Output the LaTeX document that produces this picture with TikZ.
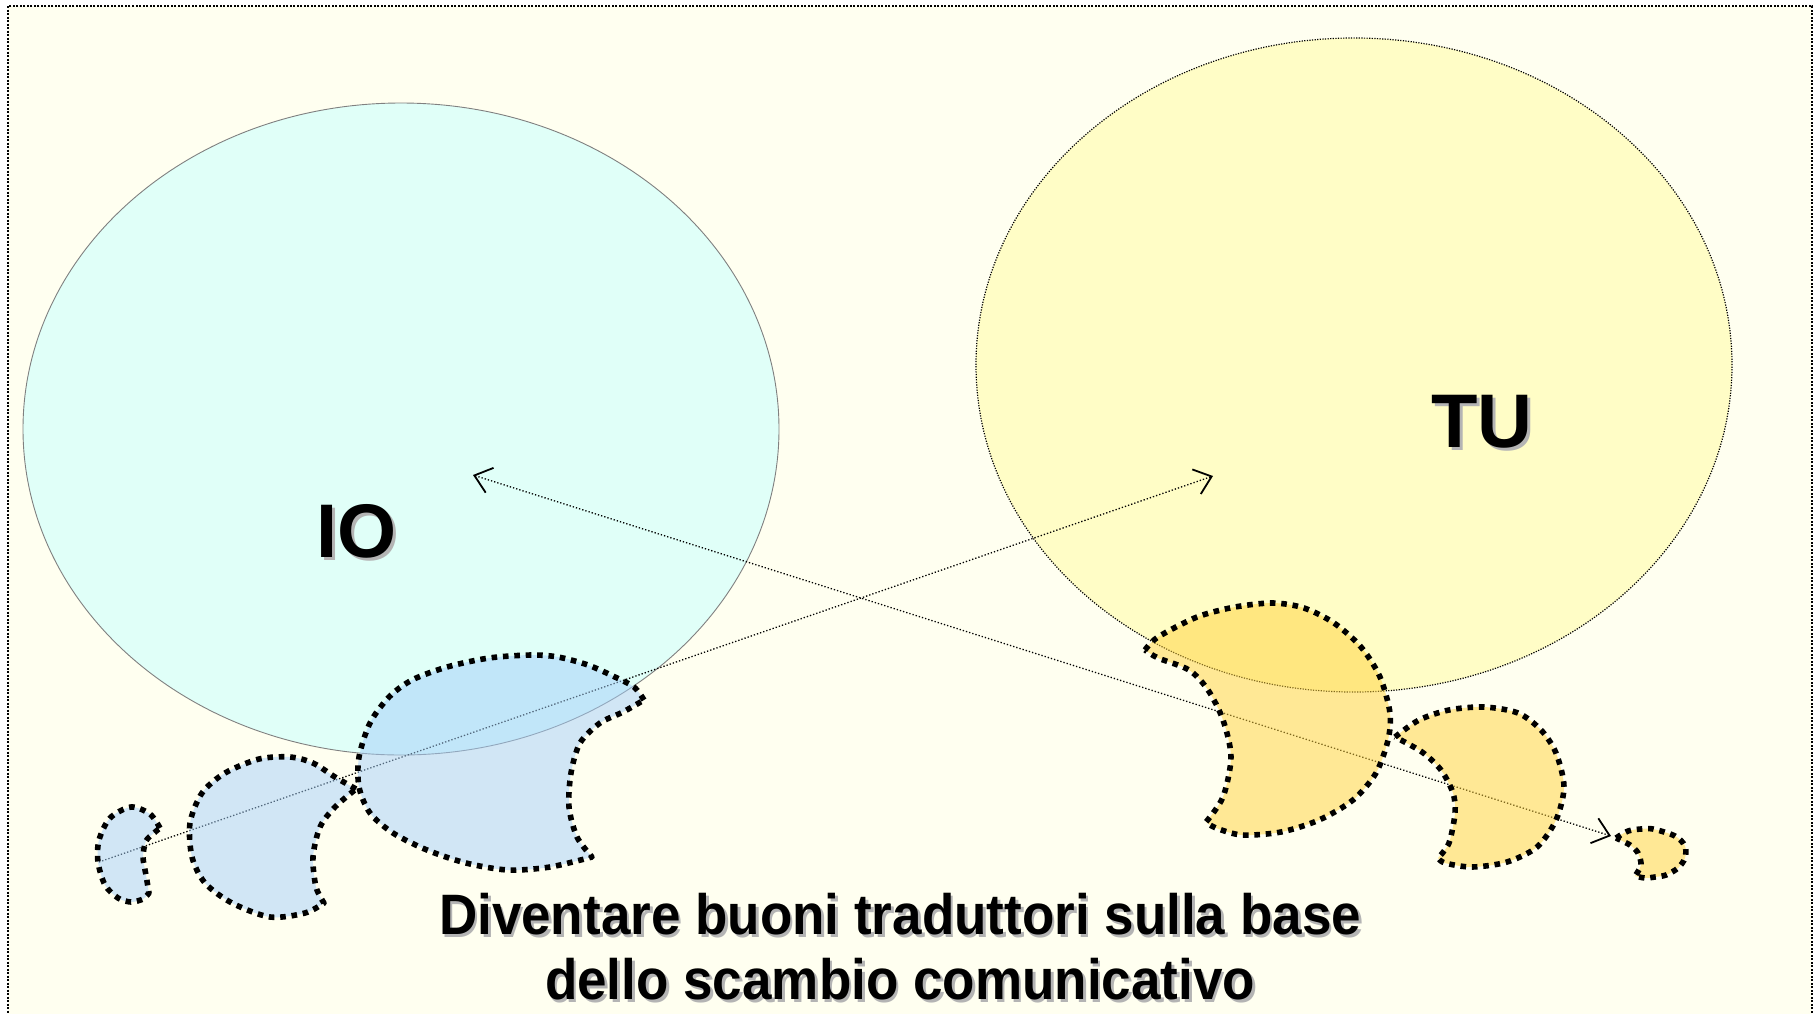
\documentclass[tikz,border=0pt]{standalone}
\usepackage{fontspec}
\setmainfont{Liberation Sans}
\usetikzlibrary{arrows.meta}
\definecolor{bgcol}{RGB}{255,255,240}
\definecolor{iocol}{RGB}{224,255,248}
\definecolor{tucol}{RGB}{255,253,198}
\definecolor{blueblob}{RGB}{164,207,250}
\definecolor{yelblob}{RGB}{255,210,60}
\definecolor{shadowgray}{RGB}{180,180,180}
\newcommand\shadowed[1]{\makebox[0pt][l]{\hspace{3pt}\raisebox{-3pt}{\textcolor{shadowgray}{#1}}}#1}
\begin{document}
\begin{tikzpicture}[x=1pt,y=-1pt,
  frame/.style={draw=black, line width=2pt, dash pattern=on 2pt off 1.5pt, fill=bgcol},
  ioell/.style={draw=gray, line width=0.9pt, fill=iocol},
  tuell/.style={draw=black, line width=1.2pt, dash pattern=on 1.2pt off 1.4pt, fill=tucol},
  link/.style={line width=1.3pt, dash pattern=on 1.3pt off 2pt},
  blob/.style={draw=black, line width=5.6pt, dash pattern=on 5.6pt off 5.8pt, line join=round, fill opacity=0.5},
  blueb/.style={blob, fill=blueblob},
  yelb/.style={blob, fill=yelblob},
  bigtext/.style={inner sep=0pt, font=\fontsize{76}{80}\selectfont\bfseries},
  captext/.style={inner sep=0pt, anchor=base}
]
\useasboundingbox (0,0) rectangle (1818,1013);
\fill[white] (0,0) rectangle (1818,1013);
\path[frame] (8,6) rectangle (1812,1016);

% ellipses
\path[ioell] (401,429) ellipse [x radius=378pt, y radius=326pt];
\path[tuell] (1354,365) ellipse [x radius=378pt, y radius=327pt];

% connectors
\coordinate (a1s) at (473,475);
\coordinate (a1e) at (1611,836);
\coordinate (a2s) at (99,862);
\coordinate (a2e) at (1213,476);
\draw[link, {Straight Barb[length=16pt,width=26pt,line width=1.8pt]}-{Straight Barb[length=16pt,width=26pt,line width=1.8pt]}] (a1s) -- (a1e);
\draw[link, -{Straight Barb[length=16pt,width=26pt,line width=1.8pt]}] (a2s) -- (a2e);

% blue blobs
\path[blueb] (160,828) -- plot[smooth] coordinates {(160,828) (150,814) (131,807) (110,818) (99,840) (98,862) (105,885) (118,898) (131,902) (143,899) (149,893)}
  -- plot[smooth] coordinates {(149,893) (146,875) (143,857) (146,841) (154,833) (160,828)} -- cycle;
\path[blueb] (356,789) -- plot[smooth] coordinates {(356,789) (335,777) (313,763) (290,757) (259,759) (225,773) (202,793) (190,823) (192,857) (205,883) (232,903) (270,917) (305,913) (324,903)}
  -- plot[smooth] coordinates {(324,903) (316,887) (313,857) (320,827) (335,807) (356,789)} -- cycle;
\path[blueb] (644,700) -- plot[smooth] coordinates {(644,700) (634,687) (615,677) (588,665) (558,657) (531,655) (489,658) (447,667) (412,680) (389,697) (370,723) (359,757) (359,787) (370,813) (393,833) (427,850) (466,863) (508,870) (550,867) (592,857)}
  -- plot[smooth] coordinates {(592,857) (577,837) (569,807) (571,773) (580,743) (600,723) (623,712) (644,700)} -- cycle;

% yellow blobs
\path[yelb] (1145,650) -- plot[smooth] coordinates {(1145,650) (1158,637) (1197,617) (1235,607) (1273,603) (1304,608) (1334,623) (1361,647) (1380,677) (1390,713) (1388,740) (1376,773) (1353,800) (1319,820) (1281,832) (1242,835) (1216,828) (1206,822)}
  -- plot[smooth] coordinates {(1206,822) (1223,797) (1231,757) (1223,720) (1208,690) (1189,670) (1158,658) (1145,650)} -- cycle;
\path[yelb] (1395,737) -- plot[smooth] coordinates {(1395,737) (1419,720) (1449,710) (1484,707) (1518,713) (1541,730) (1556,753) (1564,787) (1556,820) (1537,847) (1507,862) (1472,867) (1445,863) (1438,858)}
  -- plot[smooth] coordinates {(1438,858) (1449,843) (1455,813) (1453,793) (1441,770) (1422,752) (1395,737)} -- cycle;
\path[yelb] (1616,838) -- plot[smooth] coordinates {(1616,838) (1628,831) (1641,829) (1653,829) (1675,836) (1685,846) (1685,858) (1678,868) (1666,875) (1655,877) (1645,878) (1635,876)}
  -- plot[smooth] coordinates {(1635,876) (1641,865) (1638,853) (1630,845) (1616,838)} -- cycle;

% texts
\node[bigtext, anchor=base west] (io) at (316,557) {\shadowed{IO}};
\node[bigtext, anchor=base west] (tu) at (1431,447) {\shadowed{TU}};
\node[captext] (cap1) at (900,934) {\scalebox{0.93}[1]{\fontsize{57}{65}\selectfont\bfseries\shadowed{Diventare buoni traduttori sulla base}}};
\node[captext] (cap2) at (900,999) {\scalebox{0.93}[1]{\fontsize{57}{65}\selectfont\bfseries\shadowed{dello scambio comunicativo}}};
\end{tikzpicture}
\end{document}
